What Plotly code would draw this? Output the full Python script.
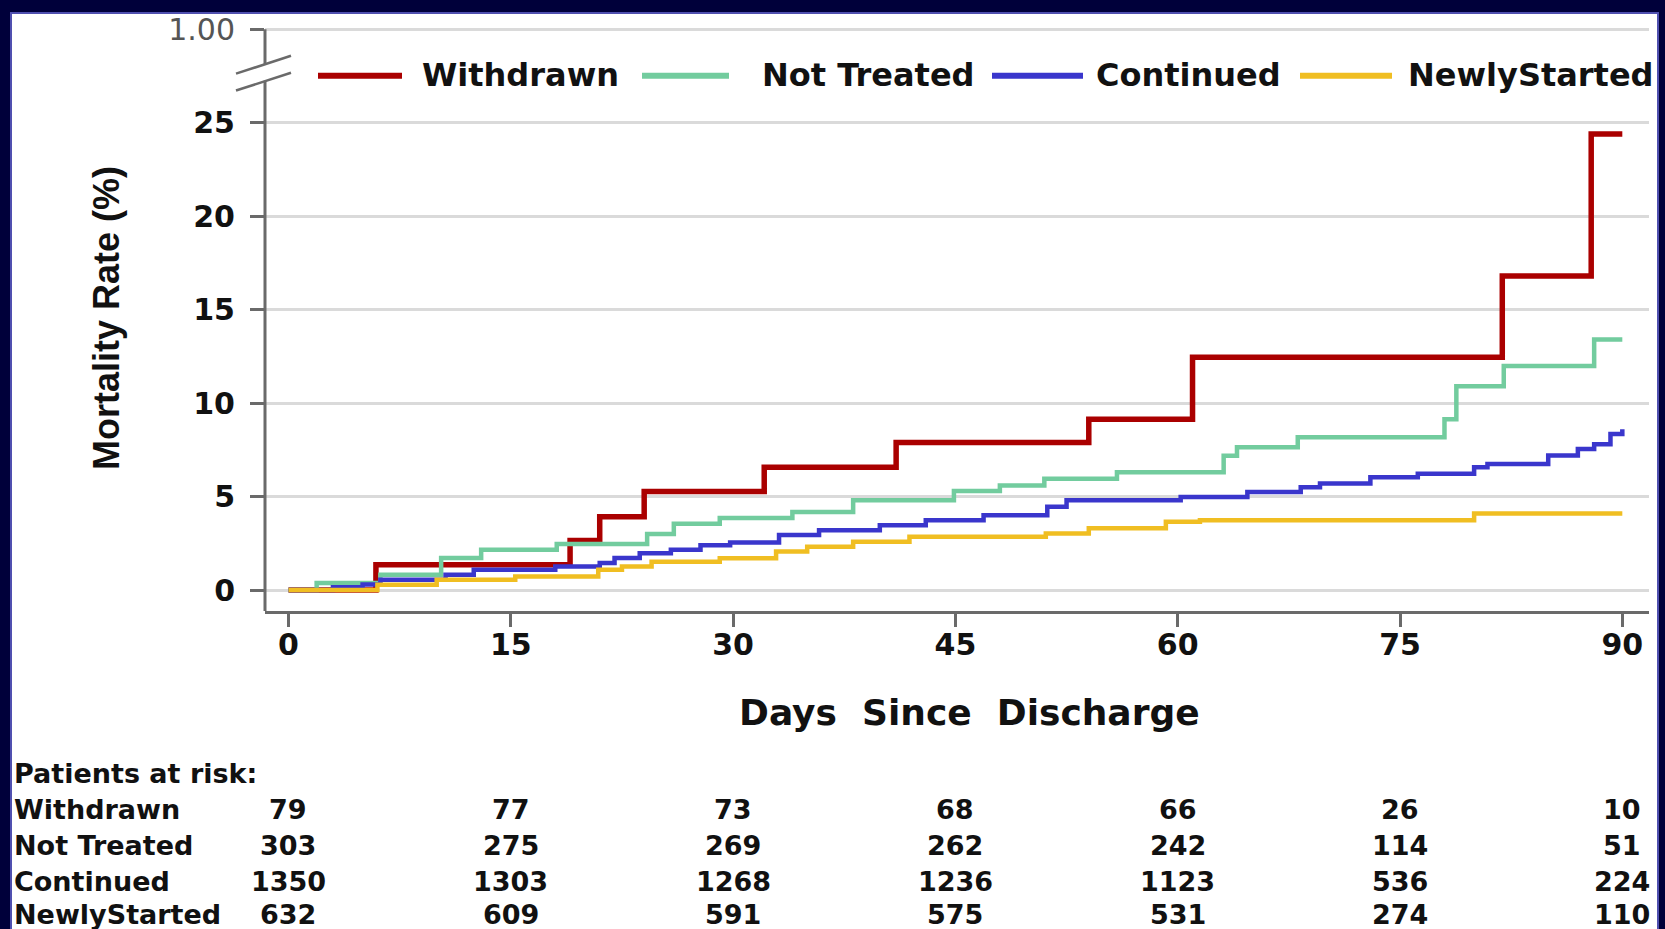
import plotly.graph_objects as go

# ---------------------------------------------------------------- data
series_names = ["Withdrawn", "Not Treated", "Continued", "NewlyStarted"]
series_colors = ["#AA0000", "#72CC9E", "#3A36CC", "#F0BE22"]
series_widths = [5.5, 4.5, 4.5, 4.5]

# cumulative mortality (%) step curves: day of each step and the level after it
days_withdrawn = [0, 5.9, 19.0, 21.0, 24.0, 32.1, 41.0, 54.0, 61.0, 81.9, 87.9, 90]
rate_withdrawn = [0, 1.35, 2.65, 3.92, 5.27, 6.57, 7.9, 9.14, 12.45, 16.8, 24.4, 24.4]

days_not_treated = [0, 1.9, 6.2, 10.3, 13.0, 18.1, 24.2, 26.0, 29.1, 34.0, 38.1, 44.9,
                    48.0, 51.0, 55.9, 63.1, 64.0, 68.1, 78.0, 78.8, 82.0, 88.1, 90]
rate_not_treated = [0, 0.38, 0.82, 1.72, 2.15, 2.46, 3.0, 3.55, 3.85, 4.18, 4.8, 5.3,
                    5.6, 5.96, 6.3, 7.19, 7.64, 8.17, 9.14, 10.9, 11.98, 13.4, 13.4]

days_continued = [0, 3, 5, 6.2, 10.6, 12.5, 18, 21, 22, 23.7, 25.8, 27.8, 29.8, 33.1,
                  35.8, 39.9, 43, 46.9, 51.2, 52.5, 60.2, 64.7, 68.3, 69.6, 73.0, 76.2,
                  80.0, 80.9, 85.0, 87.0, 88.1, 89.2, 90]
rate_continued = [0, 0.15, 0.3, 0.55, 0.82, 1.08, 1.26, 1.45, 1.72, 1.97, 2.15, 2.4, 2.55,
                  2.94, 3.2, 3.47, 3.74, 4.0, 4.45, 4.8, 4.98, 5.25, 5.5, 5.7, 6.04, 6.22,
                  6.57, 6.75, 7.2, 7.55, 7.8, 8.35, 8.6]

days_newly = [0, 6, 10, 15.3, 20.9, 22.5, 24.5, 29.1, 32.9, 35, 38.1, 41.9, 51.1, 54,
              59.2, 61.5, 80, 90]
rate_newly = [0, 0.29, 0.55, 0.73, 1.08, 1.26, 1.52, 1.7, 2.06, 2.32, 2.59, 2.85, 3.03,
              3.3, 3.65, 3.74, 4.1, 4.1]

series_days = [days_withdrawn, days_not_treated, days_continued, days_newly]
series_rates = [rate_withdrawn, rate_not_treated, rate_continued, rate_newly]

# patients at risk table
risk_days = [0, 15, 30, 45, 60, 75, 90]
risk_withdrawn = [79, 77, 73, 68, 66, 26, 10]
risk_not_treated = [303, 275, 269, 262, 242, 114, 51]
risk_continued = [1350, 1303, 1268, 1236, 1123, 536, 224]
risk_newly = [632, 609, 591, 575, 531, 274, 110]
risk_rows = [risk_withdrawn, risk_not_treated, risk_continued, risk_newly]

x_ticks = [0, 15, 30, 45, 60, 75, 90]
y_ticks = [0, 5, 10, 15, 20, 25, 30]
y_tick_text = ["0", "5", "10", "15", "20", "25", "1.00"]

x_title = "Days\u00a0\u00a0Since\u00a0\u00a0Discharge"
y_title = "Mortality Rate (%)"
risk_title = "Patients at risk:"

# ---------------------------------------------------------------- layout geometry
FIG_W, FIG_H = 1665, 929
M_L, M_R, M_T, M_B = 265, 16, 23, 318
PLOT_W = FIG_W - M_L - M_R
PLOT_H = FIG_H - M_T - M_B
X_RANGE = [-1.585, 91.8]
Y_RANGE = [-1.12, 30.12]


def px_x(p):
    return (p - M_L) / PLOT_W


def px_y(p):
    return (FIG_H - M_B - p) / PLOT_H


def py_val(p):
    # pixel row -> y data value
    return Y_RANGE[0] + (FIG_H - M_B - p) / PLOT_H * (Y_RANGE[1] - Y_RANGE[0])


WIDE = "DejaVu Sans"
ARIAL = "Liberation Sans"
AXIS_GREY = "#6a6a6a"

fig = go.Figure()

for name, color, width, xs, ys in zip(series_names, series_colors, series_widths,
                                      series_days, series_rates):
    fig.add_trace(go.Scatter(
        x=xs, y=ys, mode="lines", name=name,
        line=dict(color=color, width=width, shape="hv"),
        showlegend=False, hoverinfo="skip",
    ))

shapes = []
annotations = []

# white panel inside the navy frame
shapes.append(dict(type="rect", xref="paper", yref="paper", layer="below",
                   x0=px_x(11), x1=px_x(1658), y0=px_y(960), y1=px_y(9),
                   fillcolor="white", line=dict(color="#5050B0", width=2)))

# broken y axis line with break marks
gap_top, gap_bot = py_val(61), py_val(77)
shapes.append(dict(type="line", xref="paper", yref="y", x0=0, x1=0,
                   y0=gap_top, y1=30, line=dict(color=AXIS_GREY, width=3)))
shapes.append(dict(type="line", xref="paper", yref="y", x0=0, x1=0,
                   y0=Y_RANGE[0], y1=gap_bot, line=dict(color=AXIS_GREY, width=3)))
for y_lo, y_hi in [(70, 52), (87, 69)]:
    shapes.append(dict(type="line", xref="paper", yref="y",
                       x0=px_x(236), x1=px_x(291), y0=py_val(y_lo), y1=py_val(y_hi),
                       line=dict(color=AXIS_GREY, width=2.5)))

# legend row
LEG_Y = 72
legend_lines = [(318, 402), (642, 729), (992, 1083), (1300, 1392)]
legend_text_x = [420, 760, 1094, 1406]
for name, color, (lx0, lx1), tx in zip(series_names, series_colors, legend_lines, legend_text_x):
    shapes.append(dict(type="line", xref="paper", yref="paper",
                       x0=px_x(lx0), x1=px_x(lx1), y0=px_y(LEG_Y), y1=px_y(LEG_Y),
                       line=dict(color=color, width=6)))
    annotations.append(dict(text=name, xref="paper", yref="paper",
                            x=px_x(tx), y=px_y(LEG_Y - 1), xanchor="left", yanchor="middle",
                            showarrow=False,
                            font=dict(family=WIDE, size=32, color="#111111", weight="bold")))

# axis titles
annotations.append(dict(text=x_title, xref="paper", yref="paper",
                        x=px_x(969), y=px_y(713), xanchor="center", yanchor="middle",
                        showarrow=False,
                        font=dict(family=WIDE, size=36, color="#111111", weight="bold")))
annotations.append(dict(text=y_title, xref="paper", yref="paper", textangle=-90,
                        x=px_x(106), y=px_y(316), xanchor="center", yanchor="middle",
                        showarrow=False,
                        font=dict(family=ARIAL, size=36, color="#111111", weight="bold")))

# patients at risk table
table_font = dict(family=WIDE, size=27, color="#111111", weight="bold")
annotations.append(dict(text=risk_title, xref="paper", yref="paper",
                        x=px_x(12), y=px_y(775), xanchor="left", yanchor="middle",
                        showarrow=False, font=table_font))
row_y = [811, 847, 883, 917]
for name, counts, ry in zip(series_names, risk_rows, row_y):
    annotations.append(dict(text=name, xref="paper", yref="paper",
                            x=px_x(12), y=px_y(ry), xanchor="left", yanchor="middle",
                            showarrow=False, font=table_font))
    for d, n in zip(risk_days, counts):
        annotations.append(dict(text=str(n), xref="x", yref="paper",
                                x=d, y=px_y(ry), xanchor="center", yanchor="middle",
                                showarrow=False, font=table_font))

tick_labels = [t if t == "1.00" else "<b>%s</b>" % t for t in y_tick_text]
tick_labels = ["<span style='color:#555555'>1.00</span>" if t == "1.00" else t
               for t in tick_labels]

fig.update_layout(
    width=FIG_W, height=FIG_H, autosize=False,
    margin=dict(l=M_L, r=M_R, t=M_T, b=M_B, pad=0),
    paper_bgcolor="#00003A", plot_bgcolor="white",
    showlegend=False,
    shapes=shapes, annotations=annotations,
    xaxis=dict(
        range=X_RANGE, tickmode="array", tickvals=x_ticks,
        ticktext=["<b>%d</b>" % t for t in x_ticks],
        ticks="outside", ticklen=13, tickwidth=3, tickcolor=AXIS_GREY,
        showline=True, linecolor=AXIS_GREY, linewidth=3,
        showgrid=False, zeroline=False, ticklabelstandoff=-8,
        tickfont=dict(family=WIDE, size=30, color="#111111"),
    ),
    yaxis=dict(
        range=Y_RANGE, tickmode="array", tickvals=y_ticks, ticktext=tick_labels,
        ticks="outside", ticklen=14, tickwidth=3, tickcolor=AXIS_GREY,
        showline=False, showgrid=True, gridcolor="#DADADA", gridwidth=3,
        zeroline=False, ticklabelstandoff=9,
        tickfont=dict(family=WIDE, size=30, color="#111111"),
    ),
)

fig.write_html("out.html")
